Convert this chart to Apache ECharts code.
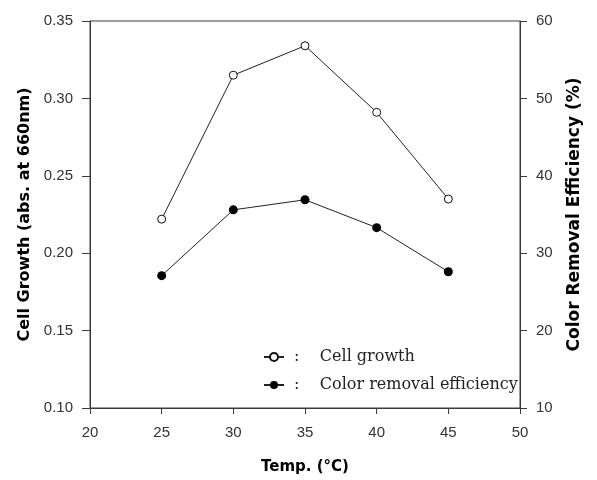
<!DOCTYPE html>
<html><head><meta charset="utf-8">
<script src="https://cdn.jsdelivr.net/npm/echarts@6/dist/echarts.min.js"></script>
<style>html,body{margin:0;padding:0;background:#fff}#c{width:597px;height:480px}</style>
</head><body><div id="c"></div>
<script>
var temps = [25, 30, 35, 40, 45];
var cellGrowth = [0.222, 0.315, 0.334, 0.291, 0.235];
var colorRemoval = [27.1, 35.6, 36.9, 33.3, 27.6];
var xTicks = [20, 25, 30, 35, 40, 45, 50];
var leftTicks = [0.10, 0.15, 0.20, 0.25, 0.30, 0.35];
var rightTicks = [10, 20, 30, 40, 50, 60];

var axisColor = '#3a3a3a';
var labelStyle = {color: '#333', fontFamily: 'Liberation Sans, Arial', fontSize: 15};
var nameStyle = {color: '#000', fontFamily: 'DejaVu Sans', fontSize: 16, fontWeight: 'bold'};

var chart = echarts.init(document.getElementById('c'), null, {renderer: 'canvas'});
chart.setOption({
  animation: false,
  backgroundColor: '#fff',
  grid: {left: 90, right: 77, top: 21, bottom: 68, show: true, borderColor: axisColor, borderWidth: 1},
  legend: {
    orient: 'vertical', left: 258, top: 344, itemGap: 12, itemWidth: 20, itemHeight: 10,
    textStyle: {fontFamily: 'DejaVu Serif, serif', fontSize: 16, color: '#222'},
    formatter: function (n) { return ' :    ' + n; },
    data: ['Cell growth', 'Color removal efficiency']
  },
  xAxis: {
    type: 'value', min: xTicks[0], max: xTicks[xTicks.length - 1], interval: 5,
    name: 'Temp. (\u00B0C)', nameLocation: 'middle', nameGap: 52,
    nameTextStyle: Object.assign({}, nameStyle, {fontSize: 15}),
    axisLine: {lineStyle: {color: axisColor}}, axisTick: {show: true, length: 6, lineStyle: {color: axisColor}},
    axisLabel: Object.assign({margin: 17}, labelStyle), splitLine: {show: false}
  },
  yAxis: [{
    type: 'value', min: leftTicks[0], max: leftTicks[leftTicks.length - 1], interval: 0.05,
    name: 'Cell Growth (abs. at 660nm)', nameLocation: 'middle', nameGap: 53, nameTextStyle: nameStyle,
    axisLine: {show: true, lineStyle: {color: axisColor}}, axisTick: {show: true, length: 8, lineStyle: {color: axisColor}},
    axisLabel: Object.assign({margin: 17, formatter: function (v) { return v.toFixed(2); }}, labelStyle),
    splitLine: {show: false}
  }, {
    type: 'value', position: 'right', min: rightTicks[0], max: rightTicks[rightTicks.length - 1], interval: 10,
    name: 'Color Removal Efficiency (%)', nameLocation: 'middle', nameGap: 46,
    nameTextStyle: Object.assign({}, nameStyle, {fontSize: 17}),
    axisLine: {show: true, lineStyle: {color: axisColor}}, axisTick: {show: true, length: 7, lineStyle: {color: axisColor}},
    axisLabel: Object.assign({margin: 16}, labelStyle), splitLine: {show: false}
  }],
  series: [{
    name: 'Cell growth', type: 'line', yAxisIndex: 0,
    data: temps.map(function (t, i) { return [t, cellGrowth[i]]; }),
    symbol: 'circle', symbolSize: 8, showSymbol: true,
    lineStyle: {color: '#222', width: 1},
    itemStyle: {color: '#fff', borderColor: '#111', borderWidth: 1}
  }, {
    name: 'Color removal efficiency', type: 'line', yAxisIndex: 1,
    data: temps.map(function (t, i) { return [t, colorRemoval[i]]; }),
    symbol: 'circle', symbolSize: 9, showSymbol: true,
    lineStyle: {color: '#222', width: 1},
    itemStyle: {color: '#000', borderColor: '#000', borderWidth: 0}
  }]
});
</script></body></html>
